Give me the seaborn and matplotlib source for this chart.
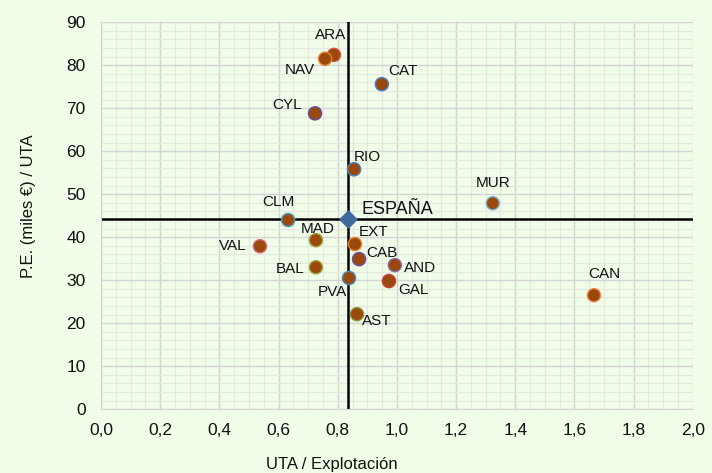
import seaborn as sns
import matplotlib.pyplot as plt
import pandas as pd
from matplotlib.ticker import MultipleLocator, FuncFormatter

# Datos por comunidad autónoma
regions = ["ARA", "NAV", "CAT", "CYL", "RIO", "MUR", "CLM", "MAD", "VAL", "EXT",
           "CAB", "AND", "BAL", "GAL", "PVA", "AST", "CAN"]
uta_expl = [0.787, 0.757, 0.949, 0.723, 0.855, 1.324, 0.632, 0.726, 0.537, 0.858,
            0.872, 0.993, 0.726, 0.973, 0.838, 0.865, 1.666]
pe_uta = [82.4, 81.5, 75.6, 68.8, 55.8, 47.9, 44.0, 39.3, 37.9, 38.4,
          34.9, 33.5, 33.0, 29.8, 30.5, 22.1, 26.5]
edges = ["#d9534f", "#e8822a", "#4a7fc1", "#6a4fa0", "#4a7fc1", "#7fb5d8", "#3fa4c9",
         "#9aa83a", "#d96a7a", "#e8822a", "#6a4fa0", "#8a6fb0", "#9aa83a", "#c9403a",
         "#3f8fc0", "#8a9a3a", "#f0874a"]
# offsets de las etiquetas (pixeles) y alineacion
lab_dx = [-3, -10, 6, -13, 0, 0, -10, 2, -13, 4, 7, 9, -11, 9, -2, 5, 10]
lab_dy = [20, -11, 13, 8, 12, 20, 18, 11, 0, 12, 6, -3, -2, -9, -14, -7, 21]
lab_ha = ["center", "right", "left", "right", "left", "center", "center", "center",
          "right", "left", "left", "left", "right", "left", "right", "left", "center"]

esp_x, esp_y = 0.835, 44.2

df = pd.DataFrame({"region": regions, "x": uta_expl, "y": pe_uta})

fam = ["Liberation Sans", "DejaVu Sans"]
plt.rcParams["font.family"] = fam

bg = "#f0fde8"
fig = plt.figure(figsize=(7.12, 4.73), dpi=100, facecolor=bg)
ax = fig.add_axes([0.142, 0.135, 0.831, 0.818])
ax.set_facecolor(bg)

ax.set_xlim(0, 2.0)
ax.set_ylim(0, 90)
ax.xaxis.set_major_locator(MultipleLocator(0.2))
ax.xaxis.set_minor_locator(MultipleLocator(0.05))
ax.yaxis.set_major_locator(MultipleLocator(10))
ax.yaxis.set_minor_locator(MultipleLocator(2))
ax.xaxis.set_major_formatter(FuncFormatter(lambda v, p: f"{v:.1f}".replace(".", ",")))
ax.grid(which="major", color="#d4d4d4", lw=1.0, zorder=0)
ax.grid(which="minor", color="#e3e9df", lw=0.8, zorder=0)
ax.set_axisbelow(True)
for s in ["top", "right"]:
    ax.spines[s].set_visible(False)
for s in ["left", "bottom"]:
    ax.spines[s].set_color("#d4d4d4")
ax.tick_params(which="both", length=0, labelsize=12.5, colors="#111111")
ax.tick_params(axis="y", pad=11)
ax.tick_params(axis="x", pad=10)

# lineas de referencia España
ax.axvline(esp_x, color="black", lw=1.8, zorder=2)
ax.axhline(esp_y, color="black", lw=1.8, zorder=2)

sns.scatterplot(data=df, x="x", y="y", ax=ax, s=90, color="#9a480c",
                edgecolor=edges, linewidth=1.0, zorder=3, legend=False)
ax.scatter([esp_x], [esp_y], marker="D", s=75, color="#3f6aa0", zorder=4)

for i, r in enumerate(regions):
    ax.annotate(r, (uta_expl[i], pe_uta[i]), xytext=(lab_dx[i], lab_dy[i]),
                textcoords="offset pixels", ha=lab_ha[i], va="center",
                fontsize=11, color="#111111")
ax.annotate("ESPAÑA", (esp_x, esp_y), xytext=(13, 10), textcoords="offset pixels",
            ha="left", va="center", fontsize=13, color="#111111")

ax.set_xlabel("UTA / Explotación", fontsize=12, color="#111111", va="center")
ax.set_ylabel("P.E. (miles €) / UTA", fontsize=12, color="#111111", va="center")
ax.xaxis.set_label_coords(0.39, -0.142)
ax.yaxis.set_label_coords(-0.123, 0.525)

plt.savefig("out.png", dpi=100, facecolor=bg)
